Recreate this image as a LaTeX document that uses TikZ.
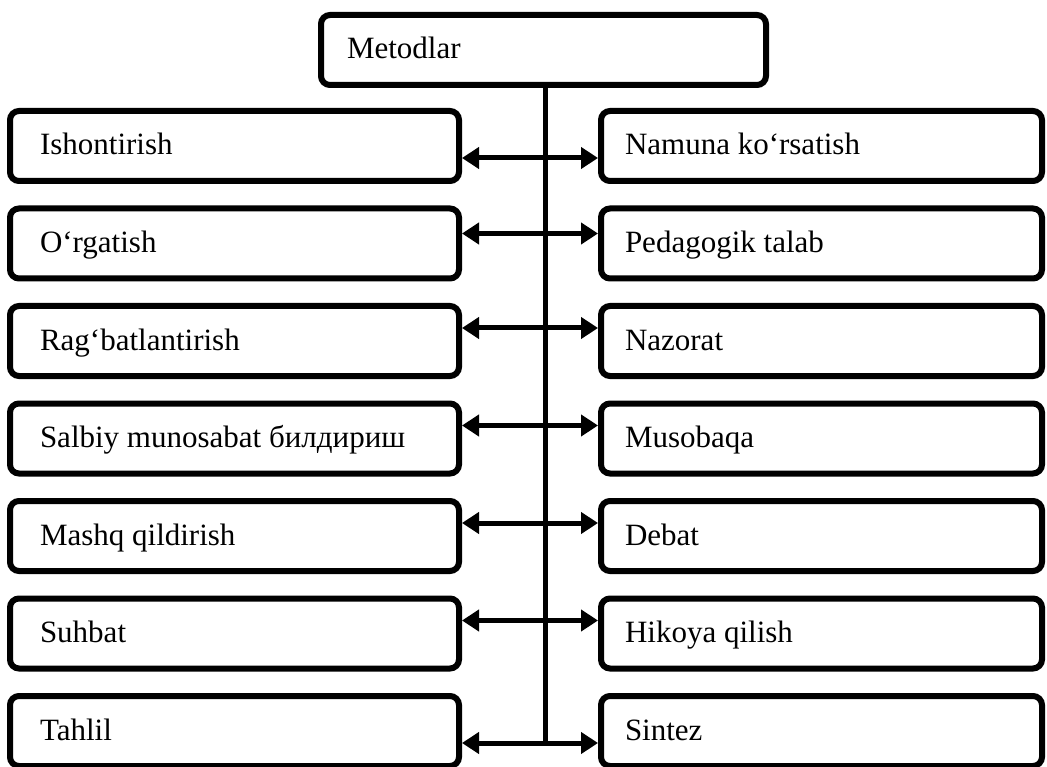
\documentclass[tikz,border=0pt]{standalone}
\usepackage{fontspec}
\setmainfont{Liberation Serif}
\usetikzlibrary{arrows.meta}

\begin{document}
\begin{tikzpicture}[x=1pt, y=-1pt,
    box/.style={draw, line width=6pt, rounded corners=9pt, align=flush left,
        minimum height=70pt, text height=24pt, text depth=6pt,
        font=\fontsize{31}{36}\selectfont},
    lbox/.style={box, text width=389pt, inner xsep=30pt},
    rbox/.style={box, text width=393pt, inner xsep=24pt},
    link/.style={{Triangle[length=17pt,width=21pt]}-{Triangle[length=17pt,width=21pt]}, line width=5pt}]
    \clip (0,0) rectangle (1047,767);
    \node[box, text width=393pt, inner xsep=26pt] (M) at (543.5,50) {Metodlar};

    \node[lbox] (L1) at (234.5,146) {Ishontirish};
    \node[lbox] (L2) at (234.5,243.5) {O‘rgatish};
    \node[lbox] (L3) at (234.5,341) {Rag‘batlantirish};
    \node[lbox] (L4) at (234.5,438.5) {Salbiy munosabat билдириш};
    \node[lbox] (L5) at (234.5,536) {Mashq qildirish};
    \node[lbox] (L6) at (234.5,633.5) {Suhbat};
    \node[lbox] (L7) at (234.5,731) {Tahlil};

    \node[rbox] (R1) at (821.5,146) {Namuna ko‘rsatish};
    \node[rbox] (R2) at (821.5,243.5) {Pedagogik talab};
    \node[rbox] (R3) at (821.5,341) {Nazorat};
    \node[rbox] (R4) at (821.5,438.5) {Musobaqa};
    \node[rbox] (R5) at (821.5,536) {Debat};
    \node[rbox] (R6) at (821.5,633.5) {Hikoya qilish};
    \node[rbox] (R7) at (821.5,731) {Sintez};

    \coordinate (bot) at (545,743);
    \draw[line width=5pt] (M.south -| bot) -- (bot);

    \draw[link] ([yshift=-12pt]L1.east) -- ([yshift=-12pt]R1.west);
    \draw[link] ([yshift=10pt]L2.east) -- ([yshift=10pt]R2.west);
    \draw[link] ([yshift=13pt]L3.east) -- ([yshift=13pt]R3.west);
    \draw[link] ([yshift=13pt]L4.east) -- ([yshift=13pt]R4.west);
    \draw[link] ([yshift=13pt]L5.east) -- ([yshift=13pt]R5.west);
    \draw[link] ([yshift=13pt]L6.east) -- ([yshift=13pt]R6.west);
    \draw[link] ([yshift=-12pt]L7.east) -- ([yshift=-12pt]R7.west);
\end{tikzpicture}
\end{document}
